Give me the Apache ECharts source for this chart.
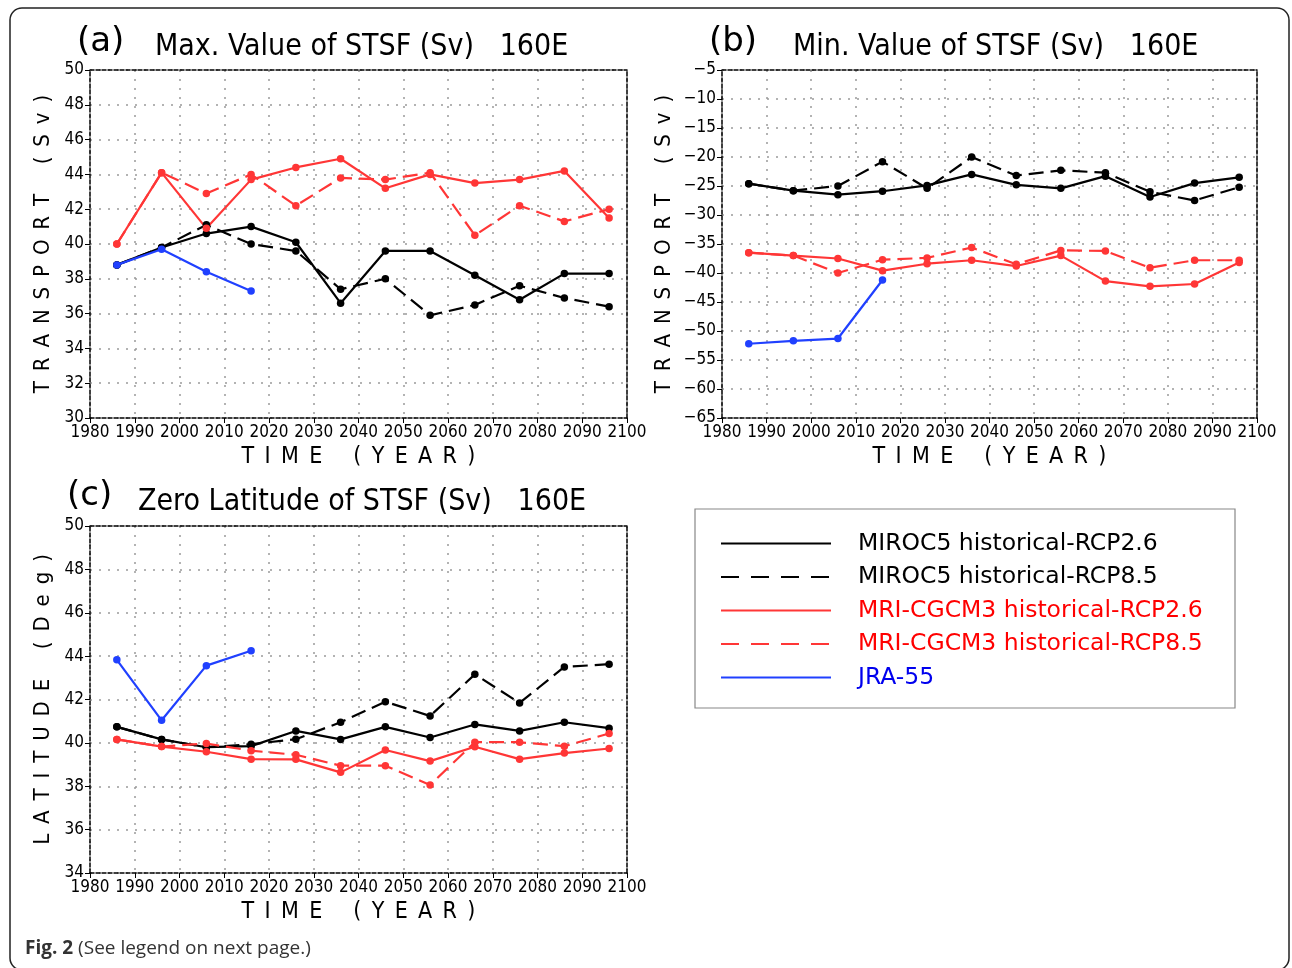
<!DOCTYPE html>
<html>
<head>
<meta charset="utf-8">
<title>STSF 160E</title>
<script src="https://cdn.jsdelivr.net/npm/echarts@6/dist/echarts.min.js"></script>
<style>
  html, body { margin: 0; padding: 0; background: #fff; }
  #chart { width: 1292px; height: 968px; }
</style>
</head>
<body>
<div id="chart"></div>
<script>
// decade centres of the running means
const years = [1986, 1996, 2006, 2016, 2026, 2036, 2046, 2056, 2066, 2076, 2086, 2096]
const jraYears = [1986, 1996, 2006, 2016]
const xTicks = { min: 1980, max: 2100, interval: 10 }

// (a) Max. value of STSF (Sv)
const maxMiroc26 = [38.8, 39.8, 40.6, 41.0, 40.1, 36.6, 39.6, 39.6, 38.2, 36.8, 38.3, 38.3]
const maxMiroc85 = [38.8, 39.8, 41.1, 40.0, 39.6, 37.4, 38.0, 35.9, 36.5, 37.6, 36.9, 36.4]
const maxMri26 = [40.0, 44.1, 40.9, 43.7, 44.4, 44.9, 43.2, 44.0, 43.5, 43.7, 44.2, 41.5]
const maxMri85 = [40.0, 44.1, 42.9, 44.0, 42.2, 43.8, 43.7, 44.1, 40.5, 42.2, 41.3, 42.0]
const maxJra = [38.8, 39.7, 38.4, 37.3]

// (b) Min. value of STSF (Sv)
const minMiroc26 = [-24.6, -25.8, -26.5, -25.9, -24.9, -23.0, -24.8, -25.4, -23.3, -26.9, -24.5, -23.5]
const minMiroc85 = [-24.6, -25.8, -25.0, -20.8, -25.4, -20.0, -23.2, -22.3, -22.7, -26.0, -27.5, -25.2]
const minMri26 = [-36.5, -37.0, -37.5, -39.6, -38.4, -37.8, -38.8, -37.0, -41.4, -42.3, -41.9, -38.2]
const minMri85 = [-36.5, -37.0, -40.0, -37.7, -37.4, -35.6, -38.5, -36.1, -36.2, -39.1, -37.8, -37.8]
const minJra = [-52.2, -51.7, -51.3, -41.2]

// (c) Zero latitude of STSF (deg)
const zeroMiroc26 = [40.74, 40.16, 39.8, 39.85, 40.55, 40.16, 40.74, 40.25, 40.85, 40.55, 40.95, 40.68]
const zeroMiroc85 = [40.74, 40.16, 39.8, 39.94, 40.17, 40.95, 41.9, 41.24, 43.16, 41.84, 43.5, 43.63]
const zeroMri26 = [40.16, 39.83, 39.59, 39.25, 39.24, 38.64, 39.67, 39.16, 39.82, 39.25, 39.53, 39.74]
const zeroMri85 = [40.16, 39.83, 39.97, 39.64, 39.45, 38.95, 38.95, 38.06, 40.03, 40.03, 39.85, 40.43]
const zeroJra = [43.83, 41.04, 43.56, 44.25]

const names = [
  'MIROC5 historical-RCP2.6',
  'MIROC5 historical-RCP8.5',
  'MRI-CGCM3 historical-RCP2.6',
  'MRI-CGCM3 historical-RCP8.5',
  'JRA-55'
]
const lineColors = ['#000000', '#000000', '#ff3636', '#ff3636', '#2040ff']
const textColors = ['#000000', '#000000', '#ff0000', '#ff0000', '#0000ee']
const dashed = [false, true, false, true, false]

const grads = 'DejaVu Sans Condensed'
const sp = '\u2002'
const spread = words => words.map(w => w.split('').join(sp)).join(sp + sp + sp)

const grids = [
  { left: 90, top: 70, width: 537, height: 348 },
  { left: 722, top: 70, width: 535, height: 348 },
  { left: 90, top: 526, width: 537, height: 347 }
]
const yRanges = [
  { min: 30, max: 50, interval: 2, name: spread(['TRANSPORT', '(Sv)']), gap: 36 },
  { min: -65, max: -5, interval: 5, name: spread(['TRANSPORT', '(Sv)']), gap: 47 },
  { min: 34, max: 50, interval: 2, name: spread(['LATITUDE', '(Deg)']), gap: 36 }
]

const frameLine = { show: true, onZero: false, lineStyle: { color: '#000', width: 1.5, type: [4, 2] } }
const dotted = { show: true, lineStyle: { color: '#9a9a9a', width: 1.5, type: [2, 7] } }

const xAxes = []
const yAxes = []
grids.forEach((g, i) => {
  xAxes.push({
    gridIndex: i,
    type: 'value',
    ...xTicks,
    position: 'bottom',
    name: spread(['TIME', '(YEAR)']),
    nameLocation: 'middle',
    nameGap: 28,
    nameTextStyle: { fontFamily: grads, fontSize: 23, color: '#000' },
    axisLine: frameLine,
    axisTick: { show: true, inside: false, length: 5, lineStyle: { color: '#000' } },
    axisLabel: {
      fontFamily: grads, fontSize: 17, color: '#000', margin: 6,
      showMinLabel: true, showMaxLabel: true,
      formatter: v => String(v)
    },
    splitLine: dotted
  })
  const r = yRanges[i]
  yAxes.push({
    gridIndex: i,
    type: 'value',
    min: r.min,
    max: r.max,
    interval: r.interval,
    position: 'left',
    name: r.name,
    nameLocation: 'middle',
    nameRotate: 90,
    nameGap: r.gap,
    nameTextStyle: { fontFamily: grads, fontSize: 22, color: '#000' },
    axisLine: frameLine,
    axisTick: { show: true, inside: false, length: 5, lineStyle: { color: '#000' } },
    axisLabel: {
      fontFamily: grads, fontSize: 17, color: '#000', margin: 6,
      formatter: v => String(v).replace('-', '\u2212')
    },
    splitLine: dotted
  })
})
// top and right edges of each frame
grids.forEach((g, i) => {
  xAxes.push({
    gridIndex: i, type: 'value', ...xTicks, position: 'top',
    axisLine: frameLine, axisTick: { show: false }, axisLabel: { show: false }, splitLine: { show: false }
  })
  yAxes.push({
    gridIndex: i, type: 'value', min: yRanges[i].min, max: yRanges[i].max, interval: yRanges[i].interval,
    position: 'right',
    axisLine: frameLine, axisTick: { show: false }, axisLabel: { show: false }, splitLine: { show: false }
  })
})

const pairs = (xs, ys) => xs.map((x, i) => [x, ys[i]])

function line (k, panel, xs, ys) {
  return {
    name: names[k],
    type: 'line',
    xAxisIndex: panel,
    yAxisIndex: panel,
    data: pairs(xs, ys),
    symbol: 'circle',
    symbolSize: 7.5,
    color: lineColors[k],
    lineStyle: { color: lineColors[k], width: 2.2, type: dashed[k] ? [15, 7] : 'solid' },
    itemStyle: { color: lineColors[k] },
    z: k === 4 ? 3 : 2,
    animation: false
  }
}

// legend-only series, first so the legend takes its icons from them
const series = names.map((n, k) => ({
  name: n,
  type: 'line',
  xAxisIndex: 0,
  yAxisIndex: 0,
  data: [],
  symbol: 'none',
  color: lineColors[k],
  lineStyle: { color: lineColors[k], width: 2.5, type: dashed[k] ? [18, 12] : 'solid' }
}))

const panels = [
  [maxMiroc26, maxMiroc85, maxMri26, maxMri85, maxJra],
  [minMiroc26, minMiroc85, minMri26, minMri85, minJra],
  [zeroMiroc26, zeroMiroc85, zeroMri26, zeroMri85, zeroJra]
]
panels.forEach((vals, p) => {
  vals.forEach((v, k) => {
    series.push(line(k, p, k === 4 ? jraYears : years, v))
  })
})

const titleFont = { fontFamily: grads, fontSize: 30, fontWeight: 'normal', color: '#000' }
const tagFont = { fontFamily: 'DejaVu Sans', fontSize: 34, fontWeight: 'normal', color: '#000' }

const chart = echarts.init(document.getElementById('chart'), null, { renderer: 'canvas' })
chart.setOption({
  backgroundColor: '#fff',
  animation: false,
  title: [
    { text: '(a)', left: 77, top: 25, textStyle: tagFont, padding: 0 },
    { text: 'Max. Value of STSF (Sv)   160E', left: 155, top: 32, textStyle: titleFont, padding: 0 },
    { text: '(b)', left: 709, top: 25, textStyle: tagFont, padding: 0 },
    { text: 'Min. Value of STSF (Sv)   160E', left: 793, top: 32, textStyle: titleFont, padding: 0 },
    { text: '(c)', left: 67, top: 479, textStyle: tagFont, padding: 0 },
    { text: 'Zero Latitude of STSF (Sv)   160E', left: 138, top: 487, textStyle: titleFont, padding: 0 }
  ],
  grid: grids.map(g => ({ ...g, containLabel: false, outerBoundsMode: 'none' })),
  xAxis: xAxes,
  yAxis: yAxes,
  legend: {
    orient: 'vertical',
    left: 720,
    top: 531,
    padding: 0,
    itemWidth: 110,
    itemHeight: 14,
    itemGap: 8.5,
    itemStyle: { opacity: 0 },
    textStyle: { fontFamily: 'DejaVu Sans', fontSize: 23.5, lineHeight: 25, padding: [0, 0, 0, 22] },
    data: names.map((n, k) => ({ name: n, textStyle: { color: textColors[k] } }))
  },
  graphic: [
    {
      type: 'rect',
      shape: { x: 10, y: 8, width: 1279, height: 962, r: 12 },
      style: { fill: 'none', stroke: '#222', lineWidth: 1.5 },
      silent: true
    },
    {
      type: 'rect',
      shape: { x: 695, y: 509, width: 540, height: 199 },
      style: { fill: 'none', stroke: '#888', lineWidth: 1.2 },
      silent: true
    },
    {
      type: 'text',
      x: 25,
      y: 949,
      style: {
        text: '{b|Fig. 2} (See legend on next page.)',
        fontFamily: 'Open Sans',
        fontSize: 19,
        fill: '#333',
        verticalAlign: 'middle',
        rich: { b: { fontFamily: 'Open Sans', fontSize: 19, fontWeight: 'bold', fill: '#333' } }
      },
      silent: true
    }
  ],
  series: series
})
</script>
</body>
</html>
